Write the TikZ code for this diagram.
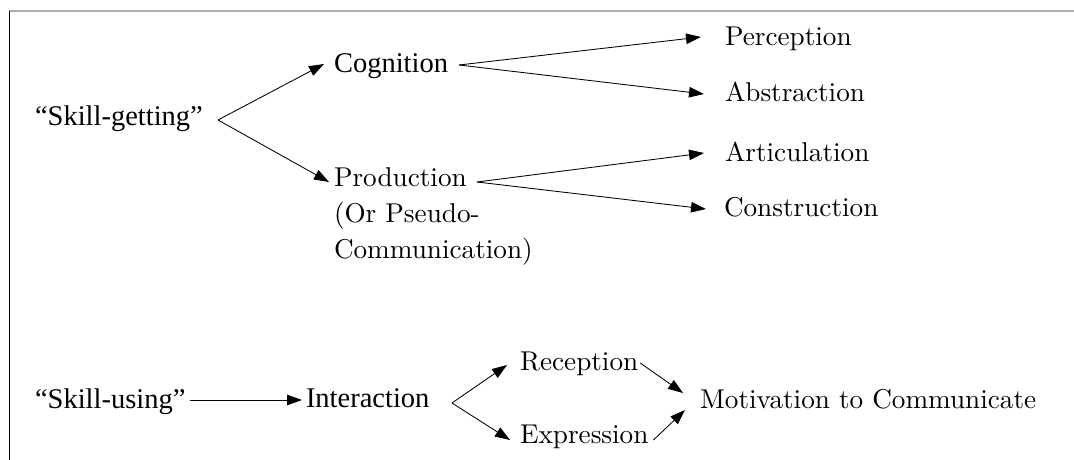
\documentclass[tikz,border=0pt]{standalone}
\usepackage{fontspec}
\setmainfont{Liberation Serif}
\newfontfamily\cmr{lmroman10-regular}[Extension=.otf]
\usetikzlibrary{arrows.meta}
\begin{document}
\begin{tikzpicture}[x=1pt,y=-1pt,
  lbl/.style={anchor=base west,inner sep=0pt,outer sep=0pt},
  tlbl/.style={lbl,font=\rmfamily\fontsize{28.5}{34}\selectfont},
  clbl/.style={lbl,font=\cmr\fontsize{27.2}{35.7}\selectfont},
  arr/.style={line width=0.85pt,-{Triangle[length=15pt,width=10.5pt]}}]
\useasboundingbox (0,0) rectangle (1074,460);
% frame
\draw[line width=2pt,black!32] (9,11) -- (1074,11);
\draw[line width=1pt] (9,11) -- (9,461);

% skill-getting branch
\node[tlbl] (sg) at (35,125) {“Skill-getting”};
\node[tlbl] (cog) at (334,73) {Cognition};
% anchored on the baseline of its last line
\node[clbl,align=left] (prod) at (334,258) {Production\\(Or Pseudo-\\Communication)};
\node[clbl] (perc) at (725,46) {Perception};
\node[clbl] (abs) at (725,102) {Abstraction};
\node[clbl] (art) at (725,161) {Articulation};
\node[clbl] (cons) at (724,216) {Construction};

\coordinate (sgfork) at (218,120);
\coordinate (cogfork) at (459,65);
\coordinate (prodfork) at (477,182);

\draw[arr] (sgfork) -- ([shift={(-10,-9)}]cog.base west);
\draw[arr] (sgfork) -- ([shift={(-5,-76)}]prod.base west);
\draw[arr] (cogfork) -- ([shift={(-24,-9)}]perc.base west);
\draw[arr] (cogfork) -- ([shift={(-21,-8)}]abs.base west);
\draw[arr] (prodfork) -- ([shift={(-21,-8)}]art.base west);
\draw[arr] (prodfork) -- ([shift={(-18,-7)}]cons.base west);

% skill-using branch
\node[tlbl] (su) at (35,408) {“Skill-using”};
\node[tlbl] (inter) at (306,407) {Interaction};
\node[clbl] (rec) at (520,370) {Reception};
\node[clbl] (expr) at (520,443) {Expression};
\node[clbl] (mot) at (700,408) {Motivation to Communicate};

\coordinate (interfork) at (452,403);

\draw[arr] ([shift={(5,-8)}]su.base east) -- ([shift={(-4,-7)}]inter.base west);
\draw[arr] (interfork) -- ([shift={(-13,-5)}]rec.base west);
\draw[arr] (interfork) -- ([shift={(-10,-3)}]expr.base west);
\draw[arr] ([shift={(2,-7)}]rec.base east) -- ([shift={(-17,-15)}]mot.base west);
\draw[arr] ([shift={(5,-3)}]expr.base east) -- ([shift={(-15,2)}]mot.base west);
\end{tikzpicture}
\end{document}
